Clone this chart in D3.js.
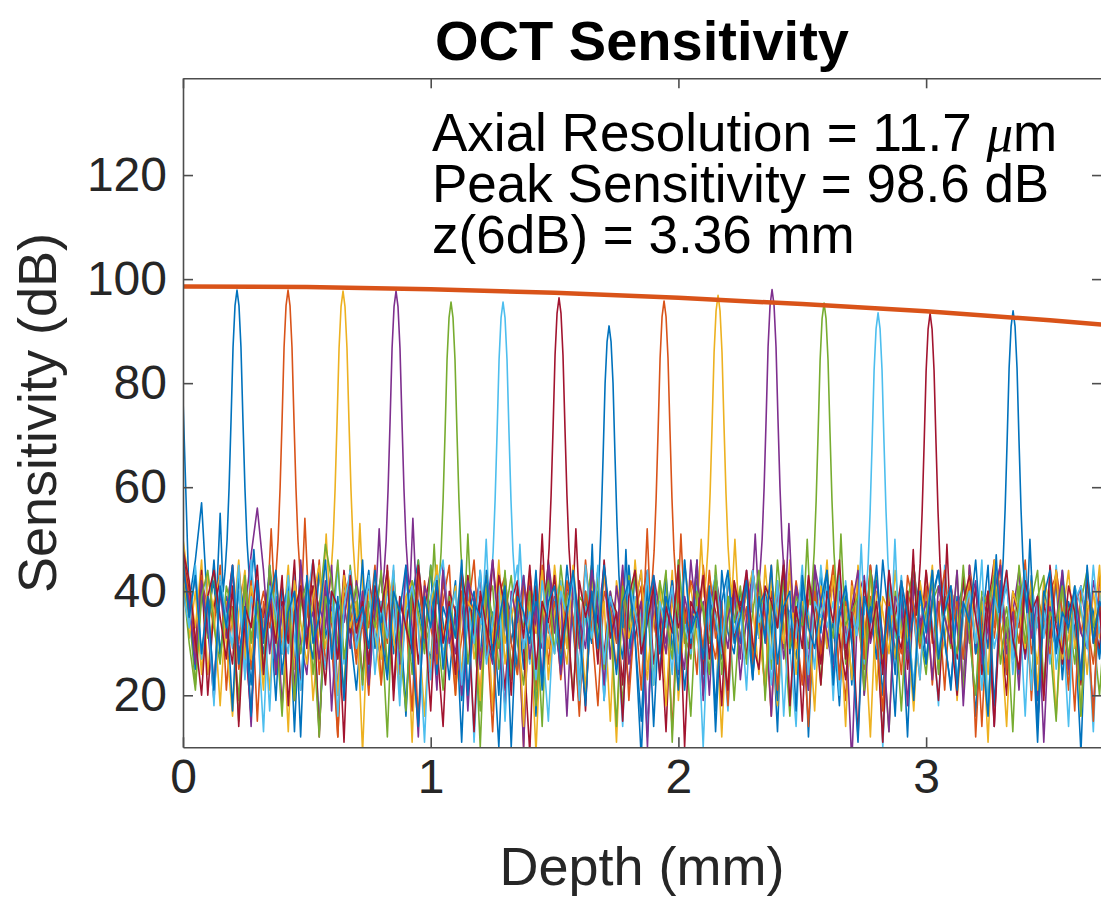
<!DOCTYPE html>
<html>
<head>
<meta charset="utf-8">
<script src="https://cdn.jsdelivr.net/npm/d3@7"></script>
<style>
  body { margin: 0; background: #fff; }
  text { font-family: "Liberation Sans", Arial, Helvetica, sans-serif; }
</style>
</head>
<body>
<div id="chart"></div>
<script>
// peak positions (mm) and peak heights (dB)
const peakDepth = [0.218, 0.424, 0.646, 0.860, 1.082, 1.292, 1.518, 1.720, 1.942, 2.160, 2.378, 2.588, 2.806, 3.016, 3.351];
const peakHeight = [97.9, 97.9, 97.7, 97.7, 95.6, 95.6, 96.4, 91.0, 95.8, 96.9, 98.0, 95.4, 93.5, 93.4, 93.9];
const lobeLeft = [55, 52, 51, 52, 49, 50, 51, 49, 52, 50, 51, 50, 49, 48, 47];
const lobeRight = [48, 54, 53, 54, 51, 49, 52, 48, 51, 50, 53, 51, 50, 49, 50];

// shape of one peak: offset from centre (mm) and drop from the top (dB)
const peakShapeDx = [-0.085, -0.056, -0.048, -0.040, -0.032, -0.024, -0.016, -0.008, 0, 0.008, 0.016, 0.024, 0.032, 0.040, 0.048, 0.056, 0.085];
const peakShapeDrop = [-62, -58, -54, -48, -38, -25, -11, -3, 0, -3, -11, -25, -38, -48, -54, -58, -62];

// sensitivity roll-off fit
const fitDepth = [0, 0.5, 1.0, 1.5, 2.0, 2.5, 3.0, 3.5, 3.8];
const fitSens = [98.6, 98.46, 98.05, 97.36, 96.4, 95.2, 93.8, 92.1, 90.9];

const xTicks = [0, 1, 2, 3];
const yTicks = [20, 40, 60, 80, 100, 120];

const colors = ["#0072BD", "#D95319", "#EDB120", "#7E2F8E", "#77AC30", "#4DBEEE", "#A2142F"];

// noise floor of each A-scan, one value every 0.025 mm
const depthStep = 0.025;
const noiseFloor = [
  [77,38,46,57,36,42,25,44,31,39,22,35,43,28,37,19,41,33,26,45,30,38,14,34,40,27,43,32,21,36,
   44,29,38,24,41,35,18,39,46,31,27,42,34,23,37,11,40,32,44,28,36,20,43,30,38,25,41,16,35,45,
   33,26,39,42,22,36,30,44,19,38,34,27,45,31,8,40,36,24,43,29,37,21,33,41,26,39,17,44,32,28,
   40,35,23,42,30,37,13,45,33,27,39,21,36,43,29,34,18,41,31,38,25,44,35,20,40,28,36,12,42,33,
   26,39,44,30,22,37,41,34,16,38,29,45,32,24,40,36,27,43,19,35,31,42,23,38,33,9,41,36,28,44],
  [48,36,43,27,39,33,45,21,37,30,42,25,34,40,17,38,44,29,35,23,41,31,46,26,36,12,39,43,28,34,
   20,41,37,30,44,24,35,39,15,42,33,27,38,45,22,31,40,36,19,43,28,34,41,25,37,10,44,32,38,26,
   39,23,35,42,29,46,33,18,40,36,25,43,31,37,21,44,34,28,39,13,41,30,36,24,45,33,27,38,20,42,
   31,37,26,43,35,16,40,29,44,33,22,38,41,27,36,45,30,19,42,34,25,39,37,11,43,32,28,40,35,23,
   44,30,38,21,41,34,27,45,36,14,39,31,42,24,37,33,46,28,35,20,40,43,29,36,17,41,34,26,38,32],
  [50,41,33,46,24,38,43,30,16,36,44,27,39,34,21,42,31,45,25,37,40,19,33,47,29,38,13,43,35,26,
   41,32,22,44,37,28,39,11,42,34,25,45,31,38,20,36,43,27,33,40,17,44,30,37,24,41,35,9,38,29,
   45,33,26,40,36,21,43,30,38,15,42,34,27,46,32,23,39,37,28,44,19,35,41,31,25,43,36,12,39,33,
   28,42,37,24,45,31,18,38,43,29,35,22,40,33,46,26,37,14,41,34,30,44,21,39,36,27,42,32,17,38,
   35,44,25,31,40,37,20,43,28,34,11,39,45,30,36,23,41,33,26,42,38,16,35,44,29,37,24,40,31,43],
  [45,34,29,42,37,22,40,31,44,26,36,47,56,44,28,39,18,35,43,30,24,41,37,33,45,20,38,29,42,35,
   27,44,32,39,14,41,36,25,43,30,38,21,45,34,28,40,17,37,42,31,26,44,35,23,39,10,41,33,29,46,
   36,24,40,43,30,19,38,34,45,27,41,32,22,37,44,13,39,35,28,42,31,25,46,33,38,20,43,36,29,40,
   23,35,44,31,38,16,42,27,36,40,33,21,45,29,37,41,24,34,7,39,43,30,36,26,44,32,38,18,41,35,
   30,43,25,37,41,33,22,45,28,39,35,14,42,31,36,44,27,38,20,40,34,29,43,24,37,41,32,17,39,36],
  [43,36,22,40,31,45,27,38,34,19,42,30,37,25,44,33,16,39,35,28,41,24,37,49,42,30,21,45,33,38,
   26,41,35,12,43,31,37,24,46,29,39,34,20,42,36,27,44,32,17,38,41,25,35,43,30,22,40,37,14,44,
   33,28,39,42,21,36,45,31,26,40,34,18,43,37,29,41,23,35,44,11,38,32,27,42,36,24,45,30,39,19,
   37,43,28,34,40,25,46,33,16,39,36,29,42,22,38,31,44,26,35,41,20,37,43,30,13,40,34,27,45,32,
   24,38,41,35,29,44,21,36,40,33,17,42,31,37,27,45,34,23,39,43,30,15,41,36,26,38,44,32,20,37],
  [41,33,45,27,38,20,43,35,29,40,24,46,31,37,17,42,34,28,44,22,39,36,13,41,30,45,26,35,38,21,
   43,32,27,40,36,18,44,29,38,34,23,41,46,30,25,37,42,11,35,39,28,44,33,20,40,36,26,43,31,15,
   38,42,29,35,23,45,33,40,19,37,31,44,26,39,35,12,42,30,36,24,46,34,28,41,21,38,43,32,17,39,
   35,27,44,31,40,22,37,43,29,14,41,36,25,45,33,38,20,42,30,35,26,44,39,10,37,31,43,28,36,23,
   41,34,18,45,32,38,27,43,36,21,40,29,35,44,24,39,16,42,33,37,26,45,30,22,38,41,34,13,40,31],
  [47,40,29,44,20,37,42,33,26,45,31,16,39,35,43,24,38,30,46,21,36,41,12,40,34,27,44,32,38,23,
   42,35,28,45,19,38,33,41,26,37,44,30,14,40,36,23,43,31,39,27,46,34,21,38,42,29,9,41,35,32,
   24,43,37,30,40,17,45,34,28,39,36,22,42,31,38,44,26,35,13,41,33,37,29,45,24,40,36,18,43,31,
   38,27,44,35,21,40,33,46,29,37,15,42,34,26,39,43,31,23,36,41,28,45,33,11,38,35,42,25,37,30,
   44,32,19,39,36,27,43,30,41,24,37,46,33,20,40,35,28,42,14,38,31,44,26,36,40,22,43,34,29,39],
  [44,37,25,41,32,46,28,39,17,43,35,22,38,30,45,26,36,41,13,40,33,27,44,31,37,20,42,35,29,46,
   23,39,34,43,28,36,16,41,38,30,45,24,37,33,42,19,35,40,27,44,31,10,39,36,25,43,32,38,21,41,
   36,29,45,33,18,40,37,26,43,31,39,22,35,44,28,41,14,38,34,42,25,36,30,46,20,39,33,27,43,35,
   30,42,24,37,40,33,19,45,28,36,41,12,38,32,44,26,35,39,22,43,31,37,27,46,34,16,40,29,36,42,
   26,38,44,31,21,39,35,42,28,33,45,18,37,41,30,24,43,36,11,40,34,29,44,32,38,23,41,35,27,39],
  [46,39,27,43,34,21,40,36,45,25,31,42,15,38,33,44,28,36,19,41,35,46,24,39,30,12,43,37,26,40,
   33,45,22,37,41,29,35,17,44,31,38,26,42,34,20,40,36,46,27,33,13,39,43,30,24,41,37,21,45,32,
   38,28,42,35,16,40,33,44,25,37,30,43,19,36,41,27,45,32,10,39,34,22,42,38,29,44,31,36,18,41,
   35,43,26,39,32,45,21,37,30,42,34,14,40,28,36,44,23,38,33,41,27,45,31,17,39,35,24,43,37,29,
   41,22,36,44,31,38,27,42,12,35,40,33,46,25,37,30,43,19,39,34,28,44,36,21,41,32,38,15,43,33],
  [45,31,40,24,43,36,18,38,33,46,27,41,35,21,44,30,37,13,42,34,26,39,45,29,36,20,43,33,38,9,
   40,35,27,44,31,22,39,42,34,16,37,45,28,33,41,24,38,36,19,43,30,46,26,35,40,14,38,32,44,23,
   36,41,29,45,33,20,38,27,43,35,11,40,31,37,44,25,34,42,18,39,28,45,36,22,41,33,37,15,43,30,
   27,39,44,33,21,42,36,30,46,24,38,35,17,41,29,43,32,37,23,45,34,12,40,36,28,44,31,38,20,42,
   34,45,26,37,41,19,35,43,30,38,24,46,33,14,40,36,29,42,21,39,35,44,27,31,41,16,38,33,45,25],
  [44,38,26,42,33,19,40,36,45,28,35,14,41,31,43,24,37,39,21,46,32,36,27,42,17,38,34,44,29,40,
   22,36,43,31,39,26,45,33,12,41,37,28,44,30,35,20,42,38,25,36,46,31,18,40,34,43,27,37,23,45,
   32,39,16,42,35,29,44,37,22,40,31,45,26,34,38,10,43,36,30,41,24,39,33,46,19,37,42,28,35,40,
   27,44,33,21,39,36,43,30,15,41,35,26,45,38,32,24,40,29,37,44,20,34,42,31,13,39,36,27,45,33,
   38,23,41,35,30,44,18,37,42,26,33,40,45,28,36,21,43,31,39,11,37,34,44,25,40,32,29,42,36,24],
  [42,30,21,39,44,33,26,41,36,15,43,31,38,24,45,35,28,40,19,37,42,32,12,39,34,46,27,36,41,22,
   38,33,44,25,40,30,17,42,36,28,45,34,21,39,31,43,26,37,10,41,35,29,44,23,38,33,40,18,36,42,
   28,45,34,20,39,37,31,43,25,36,14,41,33,44,29,38,22,42,35,27,46,32,16,40,37,30,43,24,39,34,
   41,26,36,44,19,38,33,42,29,35,45,23,40,31,11,37,43,28,36,39,21,44,32,27,41,35,17,38,45,30,
   36,42,24,39,33,28,45,31,20,40,37,43,26,35,13,41,30,38,44,22,36,34,41,27,39,16,42,33,37,29],
  [40,33,44,27,37,18,42,35,30,45,23,39,34,13,41,36,28,43,31,21,38,46,33,25,40,16,37,44,29,35,
   42,24,38,31,45,20,36,41,33,11,39,43,27,35,40,22,37,30,44,26,34,41,15,38,45,29,36,23,42,33,
   28,40,35,43,19,37,31,45,26,39,34,14,42,36,29,44,22,38,33,41,25,46,31,37,10,40,35,28,43,32,
   37,21,44,34,39,27,42,16,36,31,45,24,38,35,41,19,43,30,36,26,40,33,45,12,38,29,42,35,22,39,
   33,44,28,37,41,23,35,40,30,46,17,39,34,42,27,36,44,21,38,31,43,25,35,14,41,37,29,45,32,38],
  [48,42,31,20,39,44,35,27,41,14,37,33,45,24,38,30,43,18,36,41,29,46,34,22,40,37,11,43,32,38,
   26,41,36,44,21,39,33,28,45,35,17,42,30,38,24,44,36,13,40,33,27,43,37,20,41,31,45,25,38,34,
   43,29,37,19,42,35,40,26,46,31,36,15,39,44,28,34,41,23,37,32,45,10,38,35,43,27,40,30,21,42,
   36,44,30,25,41,38,33,45,18,37,29,43,35,22,40,34,46,27,36,12,42,31,38,24,44,33,29,40,16,37,
   41,34,27,45,32,20,38,43,35,28,40,14,37,44,31,25,42,36,39,19,45,33,28,41,36,23,43,30,38,17],
  [46,35,43,28,39,21,41,33,45,26,37,16,42,31,38,44,24,36,40,12,43,30,35,46,27,39,19,41,34,37,
   29,44,32,23,40,36,45,28,14,39,33,42,25,37,31,46,20,38,35,43,27,34,41,10,39,36,30,44,22,38,
   41,26,36,44,33,18,40,29,45,35,24,38,42,31,15,37,43,28,39,34,21,46,32,36,27,41,13,38,44,30,
   35,42,23,39,31,45,26,37,40,17,43,33,29,38,44,22,36,41,30,11,39,34,45,28,37,24,42,35,19,40,
   32,44,27,36,41,21,38,34,46,29,16,40,35,43,25,37,31,42,14,39,44,28,36,33,41,23,45,30,38,35]
];

;(function () {
  const W = 1101, H = 903;
  const plot = { left: 183, right: 1102, top: 78.3, bottom: 747.3 };

  const svg = d3.select("#chart")
    .append("svg")
    .attr("width", W)
    .attr("height", H)
    .style("display", "block");

  svg.append("rect").attr("width", W).attr("height", H).attr("fill", "#fff");

  const xPositionScale = d3.scaleLinear().domain([0, 3.71]).range([plot.left, plot.right]);
  const yPositionScale = d3.scaleLinear().domain([10, 138.6]).range([plot.bottom, plot.top]);

  svg.append("clipPath").attr("id", "plot-clip")
    .append("rect")
    .attr("x", plot.left)
    .attr("y", plot.top)
    .attr("width", plot.right - plot.left)
    .attr("height", plot.bottom - plot.top);

  // build one A-scan: noise floor with the peak dropped in
  function scanPoints(i) {
    const c = peakDepth[i], h = peakHeight[i];
    const pts = [];
    noiseFloor[i].forEach((v, k) => {
      const z = k * depthStep;
      if (Math.abs(z - c) > 0.09) pts.push([z, v]);
    });
    peakShapeDx.forEach((dx, k) => pts.push([c + dx, h + peakShapeDrop[k]]));
    pts.push([c - 0.068, lobeLeft[i]], [c + 0.068, lobeRight[i]]);
    pts.sort((a, b) => a[0] - b[0]);
    return pts;
  }

  const line = d3.line()
    .x(d => xPositionScale(d[0]))
    .y(d => yPositionScale(d[1]));

  const dataLayer = svg.append("g").attr("clip-path", "url(#plot-clip)");

  dataLayer.selectAll("path.scan")
    .data(peakDepth.map((d, i) => i))
    .enter()
    .append("path")
    .attr("class", "scan")
    .attr("d", i => line(scanPoints(i)))
    .attr("fill", "none")
    .attr("stroke", i => colors[i % colors.length])
    .attr("stroke-width", 1.6)
    .attr("stroke-linejoin", "round");

  const fitLine = d3.line()
    .x(d => xPositionScale(d[0]))
    .y(d => yPositionScale(d[1]))
    .curve(d3.curveMonotoneX);

  dataLayer.append("path")
    .attr("d", fitLine(fitDepth.map((d, i) => [d, fitSens[i]])))
    .attr("fill", "none")
    .attr("stroke", "#D95319")
    .attr("stroke-width", 4.5);

  // axes, MATLAB style: box with inward ticks
  const axisColor = "#4d4d4d";
  const fontSize = 48;

  const xAxis = d3.axisBottom(xPositionScale).tickValues(xTicks).tickFormat(d3.format("d"))
    .tickSizeInner(-10).tickSizeOuter(0).tickPadding(12);
  const yAxis = d3.axisLeft(yPositionScale).tickValues(yTicks).tickFormat(d3.format("d"))
    .tickSizeInner(-10).tickSizeOuter(0).tickPadding(16);
  const xTop = d3.axisTop(xPositionScale).tickValues(xTicks).tickSizeInner(-10).tickSizeOuter(0).tickFormat("");
  const yRight = d3.axisRight(yPositionScale).tickValues(yTicks).tickSizeInner(-10).tickSizeOuter(0).tickFormat("");

  const gx = svg.append("g").attr("transform", "translate(0," + plot.bottom + ")").call(xAxis);
  const gy = svg.append("g").attr("transform", "translate(" + plot.left + ",0)").call(yAxis);
  const gt = svg.append("g").attr("transform", "translate(0," + plot.top + ")").call(xTop);
  const gr = svg.append("g").attr("transform", "translate(" + plot.right + ",0)").call(yRight);

  [gx, gy, gt, gr].forEach(g => {
    g.attr("font-family", null).attr("font-size", null);
    g.selectAll("path, line").attr("stroke", axisColor).attr("stroke-width", 1.6);
    g.selectAll("text")
      .attr("fill", "#262626")
      .style("font-size", fontSize + "px");
  });

  svg.append("text")
    .attr("x", (plot.left + 1101) / 2)
    .attr("y", 60)
    .attr("text-anchor", "middle")
    .style("font-size", "56px")
    .style("font-weight", "bold")
    .attr("fill", "#000")
    .text("OCT Sensitivity");

  svg.append("text")
    .attr("x", (plot.left + 1101) / 2)
    .attr("y", 885)
    .attr("text-anchor", "middle")
    .style("font-size", "54px")
    .attr("fill", "#262626")
    .text("Depth (mm)");

  svg.append("text")
    .attr("transform", "translate(56,413) rotate(-90)")
    .attr("text-anchor", "middle")
    .style("font-size", "54px")
    .attr("fill", "#262626")
    .text("Sensitivity (dB)");

  // annotation block
  const note = svg.append("text")
    .attr("x", 432)
    .attr("y", 151)
    .style("font-size", "53px")
    .attr("fill", "#000");

  const line1 = note.append("tspan").attr("x", 432).attr("y", 151);
  line1.append("tspan").text("Axial Resolution = 11.7 ");
  line1.append("tspan")
    .style("font-family", "'Liberation Serif', 'DejaVu Serif', serif")
    .style("font-style", "italic")
    .text("\u03BC");
  line1.append("tspan").text("m");

  note.append("tspan").attr("x", 432).attr("y", 202).text("Peak Sensitivity = 98.6 dB");
  note.append("tspan").attr("x", 432).attr("y", 253).text("z(6dB) = 3.36 mm");
})()
</script>
</body>
</html>
